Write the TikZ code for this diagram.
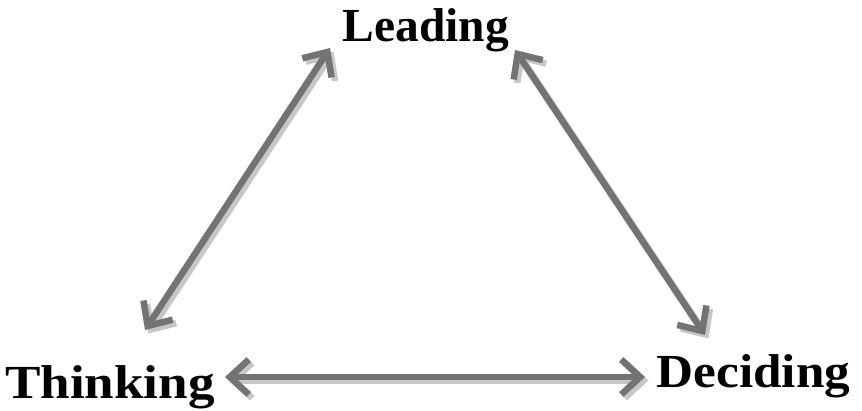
\documentclass[tikz,border=0pt]{standalone}
\usepackage{fontspec}
\setmainfont{Liberation Serif}
\usetikzlibrary{arrows.meta}

\tikzset{
    word/.style={font=\bfseries\fontsize{27}{30}\selectfont, inner sep=0pt},
    link/.style={line width=1.3mm, draw=black!55, {Straight Barb[length=3.8mm,width=7mm]}-{Straight Barb[length=3.8mm,width=7mm]}},
    linkshade/.style={link, draw=black!22, transform canvas={shift={(0.07,-0.07)}}}
}

\begin{document}
\begin{tikzpicture}
    \useasboundingbox (0,0) rectangle (17.24,8.2);

    \node[word] (lead) at (8.52,7.6) {Leading};
    \node[word, xscale=1.12] (think) at (2.2,0.46) {Thinking};
    \node[word, xscale=1.08] (decide) at (15.07,0.68) {Deciding};

    % arrow tips next to the words
    \coordinate (lead-l) at (6.6,7.24);
    \coordinate (lead-r) at (10.3,7.2);
    \coordinate (think-t) at (2.9,1.6);
    \coordinate (think-r) at (4.5,0.66);
    \coordinate (decide-t) at (14.1,1.5);
    \coordinate (decide-l) at (12.9,0.66);

    % shadows first, then the arrows
    \draw[linkshade] (lead-l) -- (think-t);
    \draw[linkshade] (lead-r) -- (decide-t);
    \draw[linkshade] (think-r) -- (decide-l);

    \draw[link] (lead-l) -- (think-t);
    \draw[link] (lead-r) -- (decide-t);
    \draw[link] (think-r) -- (decide-l);
\end{tikzpicture}
\end{document}
